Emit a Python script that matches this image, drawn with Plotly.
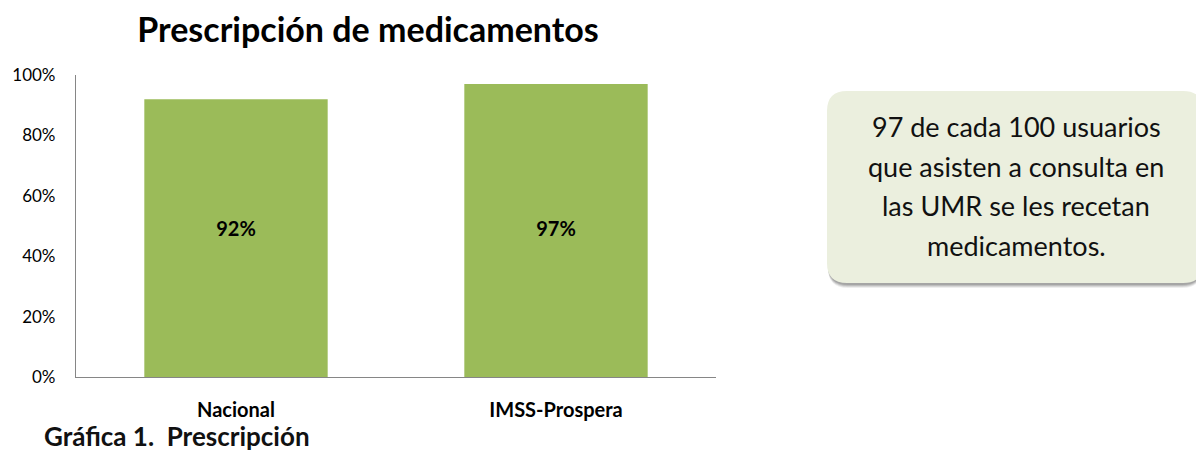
import plotly.graph_objects as go

categories = ["Nacional", "IMSS-Prospera"]
values = [0.92, 0.97]
value_labels = ["92%", "97%"]
tick_vals = [0, 0.2, 0.4, 0.6, 0.8, 1.0]
tick_text = ["0%", "20%", "40%", "60%", "80%", "100%"]
title_text = "Prescripción de medicamentos"
caption_text = "Gráfica 1.  Prescripción"
callout_lines = ["97 de cada 100 usuarios", "que asisten a consulta en",
                 "las UMR se les recetan", "medicamentos."]

OFF = 8  # page body margin
W, H = 1204 - OFF, 451 - OFF
ML = 76 - OFF
MT = 75 - OFF
MB = H - (377 - OFF)
MR = W - (716 - OFF)
PW = W - ML - MR
PH = H - MT - MB
FONT = "Lato"

def px_x(x):
    return (x - OFF - ML) / PW

def px_y(y):
    return (MT + PH - (y - OFF)) / PH

fig = go.Figure()
fig.add_trace(go.Bar(
    x=categories, y=values,
    marker=dict(color="#9BBB59", line=dict(width=0)),
    width=0.573, hoverinfo="skip",
))
fig.add_trace(go.Scatter(
    x=categories, y=[max(values) / 2] * len(values), text=value_labels,
    mode="text", textposition="middle center",
    textfont=dict(family=FONT, size=20, color="#000000", weight="bold"),
    hoverinfo="skip",
))

def rounded_path(x0, y0, x1, y1, r):
    def P(x, y):
        return f"{px_x(x):.5f},{px_y(y):.5f}"
    return (f"M {P(x0 + r, y0)} L {P(x1 - r, y0)} Q {P(x1, y0)} {P(x1, y0 + r)} "
            f"L {P(x1, y1 - r)} Q {P(x1, y1)} {P(x1 - r, y1)} L {P(x0 + r, y1)} "
            f"Q {P(x0, y1)} {P(x0, y1 - r)} L {P(x0, y0 + r)} Q {P(x0, y0)} {P(x0 + r, y0)} Z")

bx0, by0, bx1, by1, br = 827, 91, 1203, 283, 20
shapes = []
for off, op in [(5, 0.10), (4, 0.15), (3, 0.2), (2, 0.25)]:
    shapes.append(dict(type="path", xref="paper", yref="paper",
                       path=rounded_path(bx0 + 1, by0 + off, bx1 - 1, by1 + off, br),
                       fillcolor=f"rgba(90,90,90,{op})", line=dict(width=0), layer="above"))
shapes.append(dict(type="path", xref="paper", yref="paper",
                   path=rounded_path(bx0, by0, bx1, by1, br),
                   fillcolor="#EBEFDE", line=dict(width=0), layer="above"))

annotations = []
line_y = [126, 166, 205, 245]
for txt, ly in zip(callout_lines, line_y):
    annotations.append(dict(text=txt, xref="paper", yref="paper",
                            x=px_x(1016), y=px_y(ly), xanchor="center", yanchor="middle",
                            showarrow=False,
                            font=dict(family=FONT, size=27, color="#111111")))
annotations.append(dict(text=f"<b>{caption_text}</b>", xref="paper", yref="paper",
                        x=px_x(42), y=px_y(436), xanchor="left", yanchor="middle",
                        showarrow=False, font=dict(family=FONT, size=26, color="#111111")))

fig.update_layout(
    width=W, height=H,
    margin=dict(l=ML, r=MR, t=MT, b=MB, autoexpand=False),
    paper_bgcolor="white", plot_bgcolor="white",
    showlegend=False,
    title=dict(text=f"<b>{title_text}</b>", x=px_x(368), xref="paper", xanchor="center",
               y=1 - (30 - OFF) / H, yanchor="middle",
               font=dict(family=FONT, size=34, color="#000000")),
    font=dict(family=FONT, color="#000000"),
    shapes=shapes, annotations=annotations,
    bargap=0.427,
    xaxis=dict(showline=True, linecolor="#868686", linewidth=1.2, showgrid=False,
               ticks="outside", ticklen=15, tickcolor="rgba(0,0,0,0)",
               tickfont=dict(family=FONT, size=20, weight="bold", color="#000000"),
               zeroline=False, fixedrange=True),
    yaxis=dict(range=[0, 1], tickvals=tick_vals, ticktext=tick_text,
               showline=True, linecolor="#868686", linewidth=1.2, showgrid=False,
               ticks="outside", ticklen=16, tickcolor="rgba(0,0,0,0)",
               tickfont=dict(family=FONT, size=17, color="#000000"),
               zeroline=False, fixedrange=True),
)

fig.write_html("out.html", config={"displayModeBar": False})
